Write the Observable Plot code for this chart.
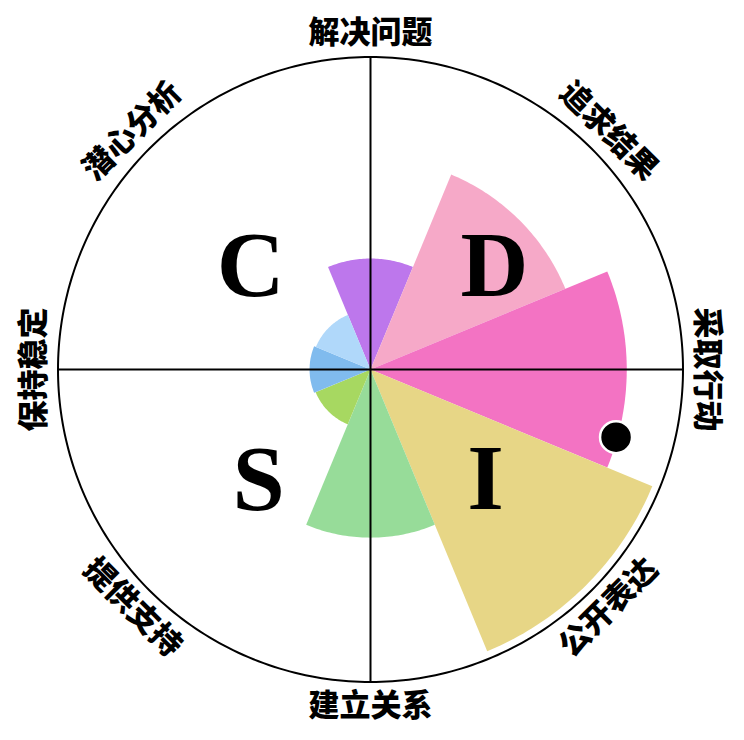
<!DOCTYPE html>
<html><head><meta charset="utf-8">
<script src="https://cdn.jsdelivr.net/npm/d3@7"></script>
<script src="https://cdn.jsdelivr.net/npm/@observablehq/plot@0.6"></script>
<style>body{margin:0;background:#fff}</style>
</head><body><div id="chart"></div>
<script>
// ---- data ----
const categories = ["解决问题","追求结果","采取行动","公开表达","建立关系","提供支持","保持稳定","潜心分析"];
const angles = [0, 45, 90, 135, 180, 225, 270, 315];        // sector centre, degrees clockwise from top
const scores = [35.5, 67.5, 82, 97.6, 53.8, 19, 19.5, 18.9]; // 0–100
const colors = ["#bd77ec","#f6a9c8","#f373c3","#e7d686","#97dc99","#a7d861","#80bbee","#b0d8fa"];
const maxScore = 100;
const quadrantLetters = ["C","D","S","I"];
const quadrantAngles = [-49.2, 50.1, -134.5, 133.7];
const quadrantRadii = [50.7, 51.7, 50.2, 50.9];
const markerAngle = 105.4;
const markerScore = 81.5;
const labelRadius = 107.8;

// ---- layout ----
const W = 744, H = 740, CX = 370, CY = 369, K = 3.125; // px per score unit
const rad = d => d * Math.PI / 180;
const toXY = (deg, r) => ({x: r * Math.sin(rad(deg)), y: r * Math.cos(rad(deg))});

const wedgePts = [];
categories.forEach((c, i) => {
  const a0 = angles[i] - 22.5, a1 = angles[i] + 22.5;
  wedgePts.push({name: c, color: colors[i], x: 0, y: 0});
  for (let s = 0; s <= 48; s++) {
    const p = toXY(a0 + (a1 - a0) * s / 48, scores[i]);
    wedgePts.push({name: c, color: colors[i], ...p});
  }
});

const circlePts = d3.range(0, 360, 1).map(a => toXY(a, maxScore));

const labels = categories.map((c, i) => {
  const a = angles[i];
  const rot = (a <= 90 || a >= 270) ? (a >= 270 ? a - 360 : a) : a - 180;
  return {text: c, rotate: rot, ...toXY(a, labelRadius)};
});

const quads = quadrantLetters.map((t, i) => ({text: t, ...toXY(quadrantAngles[i], quadrantRadii[i])}));
const marker = [toXY(markerAngle, markerScore)];

const chart = Plot.plot({
  width: W, height: H,
  margin: 0,
  style: {background: "white"},
  x: {domain: [-CX / K, (W - CX) / K], axis: null},
  y: {domain: [-(H - CY) / K, CY / K], axis: null},
  color: {type: "identity"},
  marks: [
    Plot.line(wedgePts, {x: "x", y: "y", z: "name", fill: "color", stroke: "none", curve: "linear-closed"}),
    Plot.ruleX([0], {y1: -maxScore, y2: maxScore, stroke: "black", strokeWidth: 2}),
    Plot.ruleY([0], {x1: -maxScore, x2: maxScore, stroke: "black", strokeWidth: 2}),
    Plot.line(circlePts, {x: "x", y: "y", stroke: "black", strokeWidth: 2, curve: "linear-closed"}),
    Plot.text(quads, {x: "x", y: "y", text: "text", fontSize: 94, fontWeight: "bold", fontFamily: "Liberation Serif", fill: "black"}),
    Plot.dot(marker, {x: "x", y: "y", r: 16, fill: "black", stroke: "white", strokeWidth: 2.5}),
    Plot.text(labels, {x: "x", y: "y", text: "text", rotate: "rotate", fontSize: 31, fontWeight: 900, fontFamily: "Noto Sans CJK SC", fill: "black"})
  ]
});
document.getElementById("chart").append(chart);
</script>
</body></html>
